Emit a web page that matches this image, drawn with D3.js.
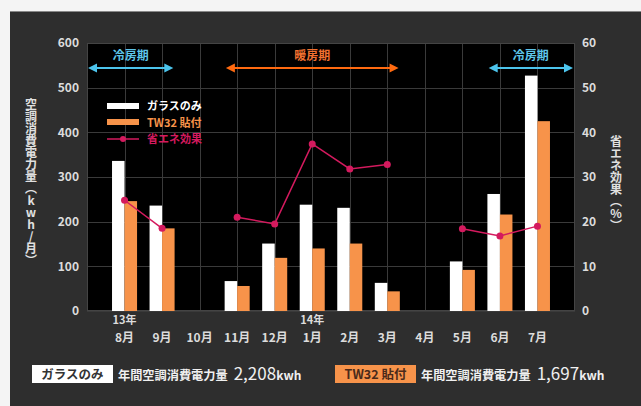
<!DOCTYPE html>
<html><head><meta charset="utf-8">
<script src="https://cdn.jsdelivr.net/npm/d3@7"></script>
<style>
html,body{margin:0;padding:0;background:#f4f4f4;}
svg{display:block;}
text{font-family:"Noto Sans CJK JP","Noto Sans",sans-serif;}
</style></head>
<body>
<svg id="c" width="641" height="406"></svg>
<script>
const months = ["8月","9月","10月","11月","12月","1月","2月","3月","4月","5月","6月","7月"];
const yearLabels = ["13年","","","","","14年","","","","","",""];
const glassOnly = [336,236,null,67,151,238,231,63,null,111,262,527];
const tw32 = [246,185,null,56,119,140,151,44,null,92,216,425];
const savings = [24.8,18.5,null,21.0,19.5,37.4,31.8,32.8,null,18.4,16.8,19.0];
const leftTicks = [0,100,200,300,400,500,600];
const rightTicks = [0,10,20,30,40,50,60];
const seasons = [
  {label:"冷房期", from:"8月", to:"9月", color:"#4cc4ec", textColor:"#5ec6ea", l:-1, r:0.3},
  {label:"暖房期", from:"11月", to:"3月", color:"#ff6a10", textColor:"#f27130", l:-0.3, r:0.3},
  {label:"冷房期", from:"6月", to:"7月", color:"#4cc4ec", textColor:"#5ec6ea", l:-0.3, r:1}
];
const totals = [
  {name:"ガラスのみ", text:"年間空調消費電力量", value:"2,208", unit:"kwh"},
  {name:"TW32 貼付", text:"年間空調消費電力量", value:"1,697", unit:"kwh"}
];

const svg = d3.select("#c");
const W = 641, H = 406;
const P = {l:87, r:575, t:43, b:311};

// panel
svg.append("rect").attr("x",10).attr("y",11).attr("width",W-10).attr("height",H-11).attr("fill","#2e2e2e");
svg.append("line").attr("x1",10).attr("x2",W).attr("y1",11.5).attr("y2",11.5).attr("stroke","#888").attr("stroke-width",1);
svg.append("rect").attr("x",P.l).attr("y",P.t).attr("width",P.r-P.l).attr("height",P.b-P.t).attr("fill","#000");

const x = d3.scalePoint().domain(months).range([P.l,P.r]).padding(1);
const step = x.step();
const y = d3.scaleLinear().domain([0,600]).range([P.b,P.t]);
const y2 = d3.scaleLinear().domain([0,60]).range([P.b,P.t]);

// grid
const grid = svg.append("g").attr("stroke","#3a3a3a").attr("stroke-width",1);
grid.selectAll(".h").data(leftTicks).join("line")
  .attr("x1",P.l).attr("x2",P.r).attr("y1",d=>Math.round(y(d))+0.5).attr("y2",d=>Math.round(y(d))+0.5);
grid.selectAll(".v").data(months).join("line")
  .attr("y1",P.t).attr("y2",P.b).attr("x1",d=>Math.round(x(d))+0.5).attr("x2",d=>Math.round(x(d))+0.5);
svg.append("rect").attr("x",P.l+0.5).attr("y",P.t+0.5).attr("width",P.r-P.l-1).attr("height",P.b-P.t-1)
  .attr("fill","none").attr("stroke","#444");

// axes labels
const tickStyle = s=>s.attr("fill","#dcdcdc").attr("font-size",12).attr("font-weight",700);
svg.append("g").selectAll("text").data(leftTicks).join("text")
  .attr("x",79).attr("y",d=>y(d)).attr("dy","0.35em").attr("text-anchor","end").text(d=>d).call(tickStyle);
svg.append("g").selectAll("text").data(rightTicks).join("text")
  .attr("x",582).attr("y",d=>y2(d)).attr("dy","0.35em").attr("text-anchor","start").text(d=>d).call(tickStyle);
svg.append("g").selectAll("text").data(months).join("text")
  .attr("x",d=>x(d)).attr("y",342).attr("text-anchor","middle").text(d=>d).call(tickStyle);
svg.append("g").selectAll("text").data(months.map((m,i)=>({m,yr:yearLabels[i]})).filter(d=>d.yr)).join("text")
  .attr("x",d=>x(d.m)).attr("y",324.3).attr("text-anchor","middle").text(d=>d.yr).call(tickStyle).attr("font-size",11);

// axis titles (vertical)
svg.append("text").attr("x",31).attr("y",98)
  .attr("style","writing-mode:vertical-rl;text-orientation:upright")
  .attr("font-size",12).attr("font-weight",700).attr("fill","#e0e0e0").text("空調消費電力量（kwh/月）");
svg.append("text").attr("x",616).attr("y",135)
  .attr("style","writing-mode:vertical-rl;text-orientation:upright")
  .attr("font-size",12).attr("font-weight",700).attr("fill","#e0e0e0").text("省エネ効果（%）");

// bars
const bw = step/3;
svg.append("g").selectAll("rect").data(months.map((m,i)=>({m,v:glassOnly[i]})).filter(d=>d.v!=null)).join("rect")
  .attr("x",d=>x(d.m)-bw).attr("width",bw).attr("y",d=>y(d.v)).attr("height",d=>y(0)-y(d.v)).attr("fill","#ffffff");
svg.append("g").selectAll("rect").data(months.map((m,i)=>({m,v:tw32[i]})).filter(d=>d.v!=null)).join("rect")
  .attr("x",d=>x(d.m)).attr("width",bw).attr("y",d=>y(d.v)).attr("height",d=>y(0)-y(d.v)).attr("fill","#f7934a");

// savings line
const sv = months.map((m,i)=>({m,v:savings[i]}));
const line = d3.line().defined(d=>d.v!=null).x(d=>x(d.m)).y(d=>y2(d.v));
svg.append("path").datum(sv).attr("d",line).attr("fill","none").attr("stroke","#d41a5e").attr("stroke-width",1.5);
svg.append("g").selectAll("circle").data(sv.filter(d=>d.v!=null)).join("circle")
  .attr("cx",d=>x(d.m)).attr("cy",d=>y2(d.v)).attr("r",3.5).attr("fill","#d41a5e");

// season arrows
seasons.forEach((s,i)=>{
  const x1 = x(s.from)+s.l*step + (s.l===-1?1:0), x2 = x(s.to)+s.r*step - (s.r===1?2:0);
  const g = svg.append("g");
  const yA = 68;
  g.append("line").attr("x1",x1+4).attr("x2",x2-4).attr("y1",yA).attr("y2",yA).attr("stroke",s.color).attr("stroke-width",2);
  g.append("path").attr("d",`M${x1},${yA}L${x1+9},${yA-4.5}L${x1+9},${yA+4.5}Z`).attr("fill",s.color);
  g.append("path").attr("d",`M${x2},${yA}L${x2-9},${yA-4.5}L${x2-9},${yA+4.5}Z`).attr("fill",s.color);
  g.append("text").attr("x",(x1+x2)/2).attr("y",60).attr("text-anchor","middle")
    .attr("font-size",12).attr("font-weight",700).attr("fill",s.textColor).text(s.label);
});

// legend
const lg = svg.append("g");
lg.append("rect").attr("x",107).attr("y",103).attr("width",32).attr("height",6).attr("fill","#fff");
lg.append("text").attr("x",147).attr("y",110).attr("font-size",11).attr("font-weight",700).attr("fill","#fff").text("ガラスのみ");
lg.append("rect").attr("x",107).attr("y",119).attr("width",32).attr("height",6).attr("fill","#f7934a");
lg.append("text").attr("x",147).attr("y",127).attr("font-size",11).attr("font-weight",700).attr("fill","#f7934a").text("TW32 貼付");
lg.append("line").attr("x1",107).attr("x2",139).attr("y1",139).attr("y2",139).attr("stroke","#d41a5e").attr("stroke-width",1.5);
lg.append("circle").attr("cx",123).attr("cy",139).attr("r",3).attr("fill","#d41a5e");
lg.append("text").attr("x",147).attr("y",143).attr("font-size",11).attr("font-weight",700).attr("fill","#d41a5e").text("省エネ効果");

// bottom totals
const bx = [32, 335];
totals.forEach((t,i)=>{
  const g = svg.append("g");
  const boxW = 81;
  g.append("rect").attr("x",bx[i]).attr("y",365).attr("width",boxW).attr("height",18)
    .attr("fill", i===0?"#fff":"#f7934a");
  g.append("text").attr("x",bx[i]+boxW/2).attr("y",379).attr("text-anchor","middle")
    .attr("font-size",12.5).attr("font-weight",700).attr("fill",i===0?"#333":"#4a2a1a").text(t.name);
  const tx = g.append("text").attr("x",bx[i]+boxW+5).attr("y",380).attr("fill","#f0f0f0");
  tx.append("tspan").attr("font-size",12.2).attr("font-weight",700).text(t.text);
  tx.append("tspan").attr("dx",6).attr("font-size",17).attr("font-weight",400).text(t.value);
  tx.append("tspan").attr("font-size",12).attr("font-weight",700).text(t.unit);
});
</script>
</body></html>
